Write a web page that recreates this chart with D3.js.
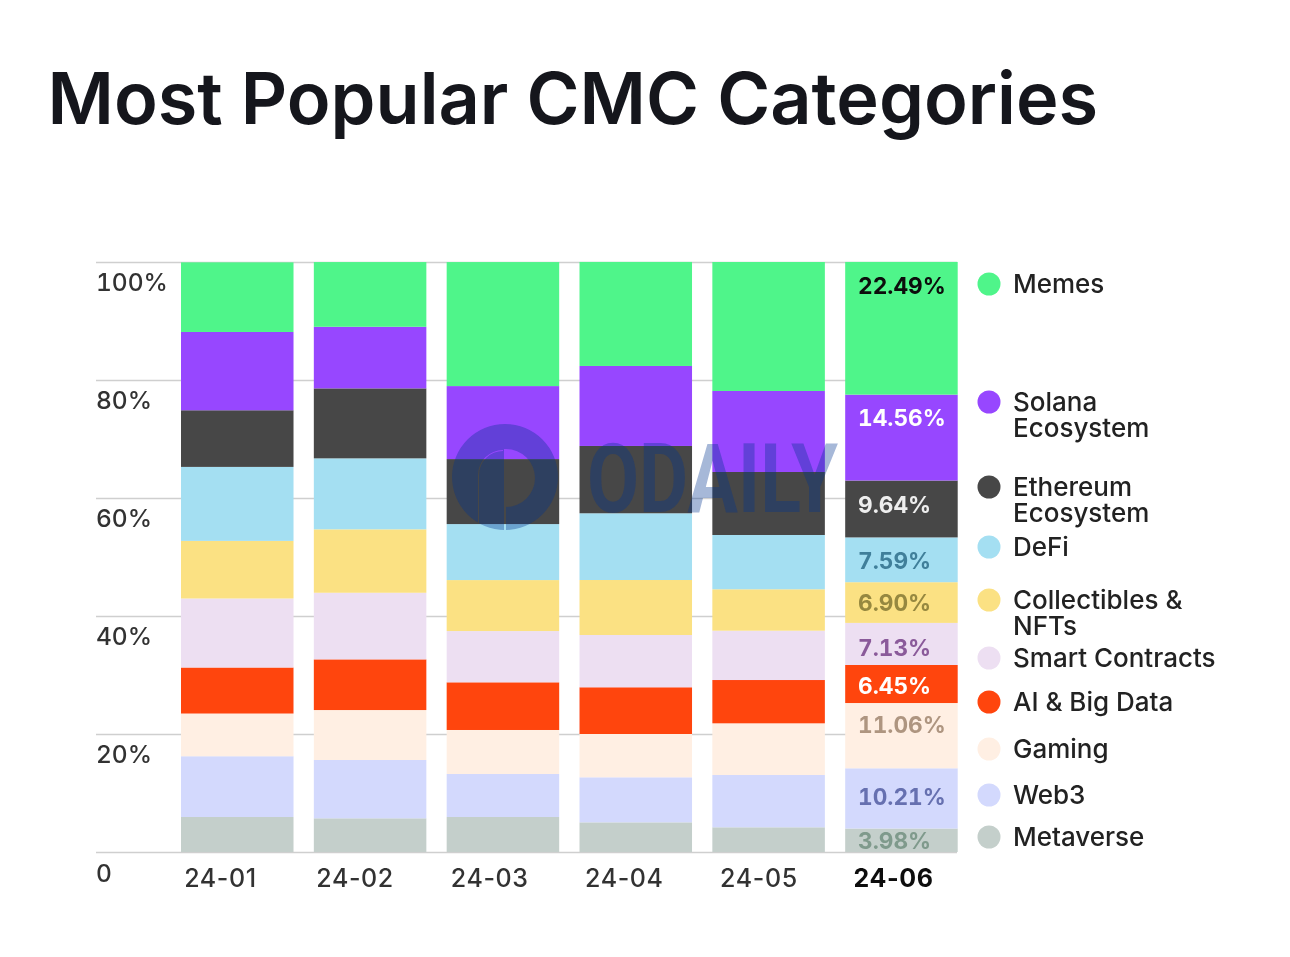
<!DOCTYPE html>
<html>
<head>
<meta charset="utf-8">
<script src="https://cdn.jsdelivr.net/npm/d3@7"></script>
<style>
  html, body { margin: 0; background: #fff; }
  svg { display: block; }
  text { font-family: Inter, "Liberation Sans", sans-serif; }
  .nums text, text.nums { font-variant-numeric: tabular-nums; }
</style>
</head>
<body>
<div id="chart"></div>
<script>
const months = ['24-01', '24-02', '24-03', '24-04', '24-05', '24-06'];
const seriesNames = ['Memes', 'Solana Ecosystem', 'Ethereum Ecosystem', 'DeFi', 'Collectibles & NFTs',
  'Smart Contracts', 'AI & Big Data', 'Gaming', 'Web3', 'Metaverse'];

// one row per series, top of the stack first
const memes      = [11.80, 10.97, 21.02, 17.63, 21.86, 22.49];
const solana     = [13.27, 10.44, 12.37, 13.56, 13.73, 14.56];
const ethereum   = [ 9.60, 11.86, 11.02, 11.41, 10.68,  9.64];
const defi       = [12.54, 12.03,  9.49, 11.31,  9.20,  7.59];
const collectibl = [ 9.76, 10.75,  8.64,  9.32,  7.02,  6.90];
const smart      = [11.70, 11.29,  8.69,  8.86,  8.36,  7.13];
const aiBigData  = [ 7.80,  8.59,  8.08,  7.92,  7.34,  6.45];
const gaming     = [ 7.24,  8.47,  7.46,  7.34,  8.76, 11.06];
const web3       = [10.30,  9.88,  7.29,  7.63,  8.86, 10.21];
const metaverse  = [ 5.93,  5.71,  5.93,  5.03,  4.19,  3.98];
const seriesValues = [memes, solana, ethereum, defi, collectibl, smart, aiBigData, gaming, web3, metaverse];

const yTicks = [0, 20, 40, 60, 80, 100];

const colors = ['#4ff58a', '#9747ff', '#474747', '#a4dff2', '#fbe183', '#eddff2', '#ff4511', '#ffefe3', '#d3d9fd', '#c4cfcb'];
const labelColors = ['#0a0a0a', '#ffffff', '#eeeeee', '#3f7f9a', '#96883f', '#8a5a9a', '#ffffff', '#ae9580', '#6670b0', '#7f9a8c'];

// layout only
const labelDy = [24, 23, 24, 23, 21, 25, 21, 22, 29, 12];
const legendRows = [284, 402, 487, 547, 600, 658, 702, 749, 795, 837];
const legendLines = [['Memes'], ['Solana', 'Ecosystem'], ['Ethereum', 'Ecosystem'], ['DeFi'], ['Collectibles &', 'NFTs'],
  ['Smart Contracts'], ['AI & Big Data'], ['Gaming'], ['Web3'], ['Metaverse']];

const width = 1290, height = 957;
const svg = d3.select('#chart').append('svg').attr('width', width).attr('height', height);

svg.append('defs').append('filter').attr('id', 'soft')
  .attr('x', '-5%').attr('y', '-5%').attr('width', '110%').attr('height', '110%')
  .append('feGaussianBlur').attr('stdDeviation', 0.55);

svg.append('text')
  .attr('x', 47.5).attr('y', 124)
  .attr('font-size', 72).attr('font-weight', 600).attr('fill', '#15161c')
  .text('Most Popular CMC Categories');

const g = svg.append('g').attr('filter', 'url(#soft)');

const x = d3.scaleBand().domain(months).range([181, 957.7]).paddingInner(0.153).paddingOuter(0);
const y = d3.scaleLinear().domain([0, 100]).range([852, 262]);
// month labels sit left of the bar centres in the source
const xLabel = d3.scalePoint().domain(months).range([220, 893]);

// grid + y labels
const yAxis = d3.axisRight(y).tickValues(yTicks).tickSize(861)
  .tickFormat((d) => (d === 0 ? '0' : d + '%'));
const yG = g.append('g').attr('class', 'nums').attr('transform', 'translate(96,0)').call(yAxis);
yG.select('.domain').remove();
yG.selectAll('.tick line').attr('stroke', '#cfcfcf').attr('stroke-width', 1.5);
yG.selectAll('.tick text')
  .attr('x', 0).attr('dy', 0).attr('y', (d) => (d === 0 ? 29 : 28))
  .attr('font-size', 24.5).attr('font-weight', 500).attr('fill', '#333');

// stacked bars, bottom series first
const rows = months.map((m, i) => {
  const row = { month: m };
  seriesNames.forEach((s, j) => { row[s] = seriesValues[j][i]; });
  return row;
});
const stacked = d3.stack().keys(seriesNames.slice().reverse())(rows);

const layers = g.selectAll('g.layer').data(stacked).enter().append('g')
  .attr('class', 'layer')
  .attr('fill', (d) => colors[seriesNames.indexOf(d.key)]);
layers.selectAll('rect').data((d) => d).enter().append('rect')
  .attr('x', (d) => x(d.data.month))
  .attr('width', x.bandwidth())
  .attr('y', (d) => y(d[1]))
  .attr('height', (d) => y(d[0]) - y(d[1]));

// x labels
const xG = g.append('g').attr('transform', 'translate(0,852)')
  .call(d3.axisBottom(xLabel).tickSize(0));
xG.select('.domain').remove();
xG.selectAll('.tick text')
  .attr('y', 17).attr('dy', '0.71em')
  .attr('font-size', 25)
  .attr('letter-spacing', 0.6)
  .attr('font-weight', (d) => (d === '24-06' ? 700 : 500))
  .style('fill', (d) => (d === '24-06' ? '#111' : '#333'));

// value labels on the last column
const lastIdx = months.length - 1;
stacked.forEach((layer) => {
  const s = seriesNames.indexOf(layer.key);
  g.append('text')
    .attr('class', 'nums')
    .attr('x', 858)
    .attr('y', y(layer[lastIdx][1]) + labelDy[s])
    .attr('dy', '0.36em')
    .attr('font-size', 22.7).attr('font-weight', 700)
    .attr('fill', labelColors[s])
    .text(d3.format('.2f')(seriesValues[s][lastIdx]) + '%');
});

// legend
const legend = g.selectAll('g.item').data(seriesNames).enter().append('g')
  .attr('class', 'item')
  .attr('transform', (d, i) => `translate(989,${legendRows[i]})`);
legend.append('circle').attr('r', 11.5).attr('fill', (d, i) => colors[i]);
legend.append('text')
  .attr('y', 0).attr('dy', '0.36em')
  .attr('font-size', 26).attr('font-weight', 500).attr('fill', '#222')
  .selectAll('tspan').data((d, i) => legendLines[i]).enter().append('tspan')
  .attr('x', 24)
  .attr('dy', (d, k) => (k === 0 ? '0.36em' : 25.5))
  .text((d) => d);

// ODAILY watermark over the bars
const mark = svg.append('g').attr('fill', 'rgb(2,52,143)').attr('opacity', 0.35).attr('filter', 'url(#soft)');
const cx = 505, cy = 478;
const p = d3.path();
p.arc(cx, cy - 1, 53, 0, 2 * Math.PI);
p.closePath();
// right half of the cut-out, with the slit below it
p.moveTo(cx + 1, cy - 29);
p.arc(cx + 1, cy, 29, -Math.PI / 2, Math.PI / 2);
p.lineTo(cx + 1, cy + 52);
p.lineTo(cx - 1, cy + 52);
p.lineTo(cx - 1, cy - 29);
p.closePath();
// thin sliver on the left
p.moveTo(cx - 2, cy - 28);
p.arc(cx - 2, cy - 3, 25, -Math.PI / 2, Math.PI, true);
p.lineTo(cx - 27, cy + 45);
p.lineTo(cx - 26, cy + 45);
p.lineTo(cx - 26, cy - 3);
p.arc(cx - 2, cy - 3, 24, Math.PI, -Math.PI / 2);
p.closePath();
mark.append('path').attr('d', p.toString()).attr('fill-rule', 'evenodd');
const word = mark.append('text')
  .attr('font-size', 96).attr('font-weight', 700)
  .style('font-family', 'Roboto, "Liberation Sans", sans-serif')
  .text('ODAILY');
word.attr('transform', `translate(587,512) scale(${251 / word.node().getComputedTextLength()},1)`);
</script>
</body>
</html>
